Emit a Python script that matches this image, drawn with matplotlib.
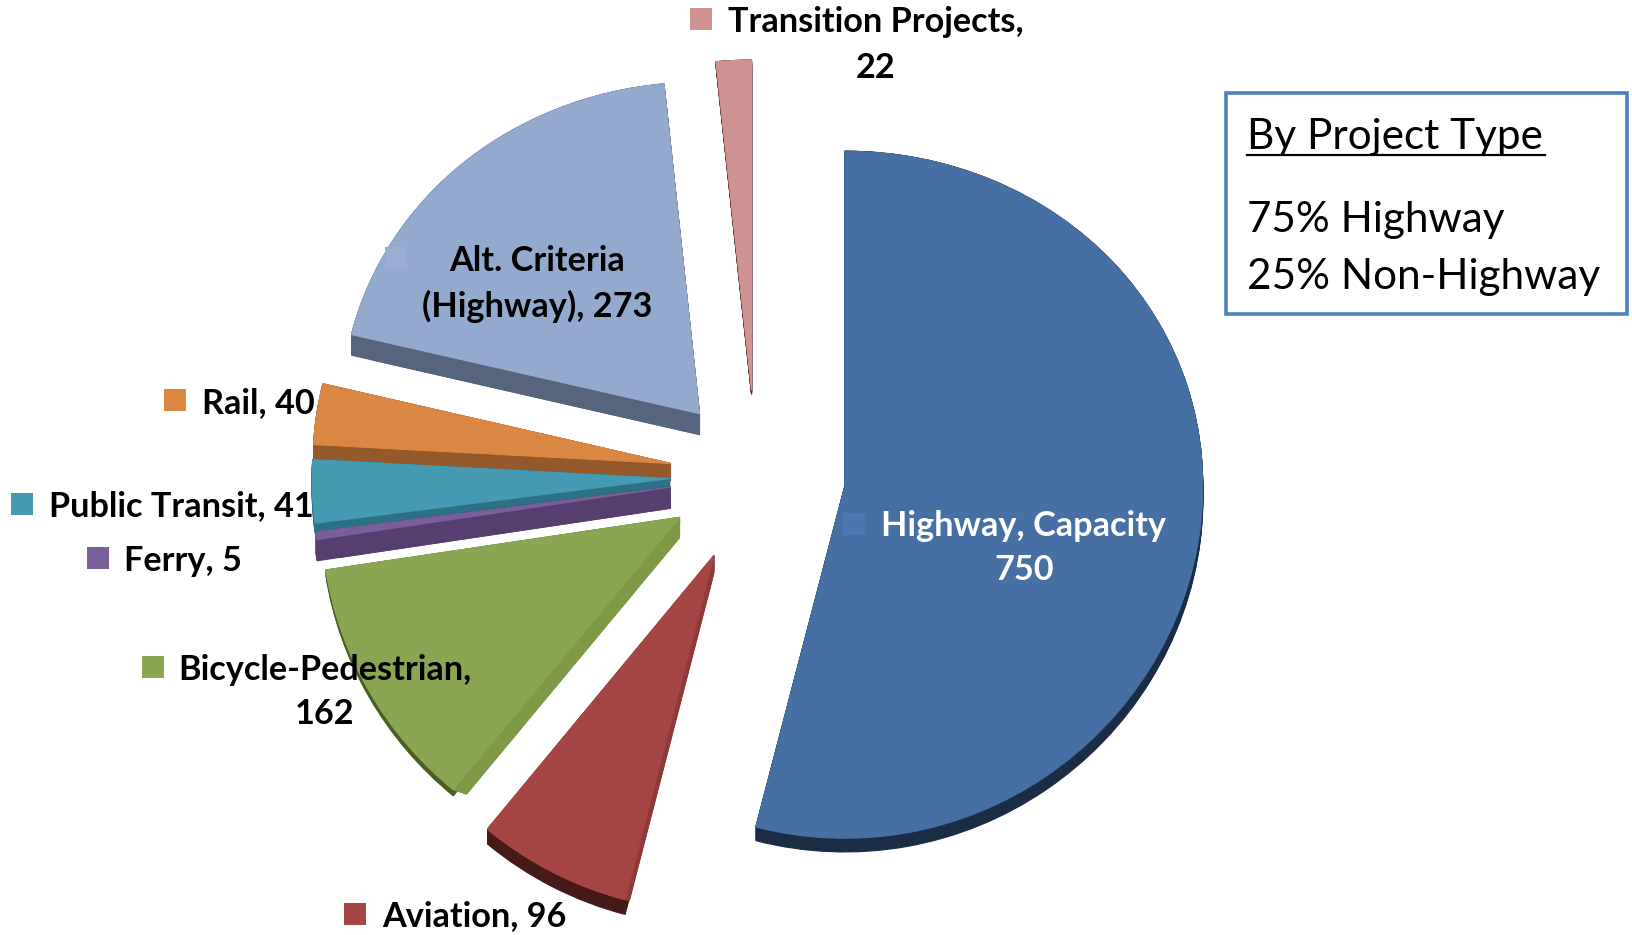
import matplotlib
matplotlib.use("Agg")
import matplotlib.pyplot as plt
from matplotlib.patches import Rectangle
import numpy as np

W, H = 1633, 935

names = ["Highway, Capacity\n750", "Aviation, 96", "Bicycle-Pedestrian,\n162", "Ferry, 5",
         "Public Transit, 41", "Rail, 40", "Alt. Criteria\n(Highway), 273", "Transition Projects,\n22"]
values = [750, 96, 162, 5, 41, 40, 273, 22]
explode = [0.25, 0.26, 0.245, 0.24, 0.24, 0.24, 0.24, 0.25]

top_colors = ["#4670A3", "#A54644", "#8AA652", "#7B5F9A", "#4599B1", "#DB8744", "#94A9CE", "#CF9292"]
edge_colors = ["#1B2D45", "#8E3A38", "#7F9947", "#563E6F", "#2D7185", "#93592A", "#56657D", "#5A3030"]
arc_colors = ["#1B2D45", "#451A18", "#4A5F28", "#563E6F", "#2D7185", "#93592A", "#56657D", "#5A3030"]
key_colors = ["#4A77AE", "#A54644", "#8AA652", "#7B5F9A", "#4599B1", "#DB8744", "#9AAED2", "#CF9292"]
depth_px = [13, 17, 20, 21, 10, 17, 21, 4]
arc_depth_px = [13, 14, 6, 21, 10, 17, 21, 4]
# back to front
draw_rank = {6: 0, 7: 1, 5: 2, 4: 3, 3: 4, 2: 5, 1: 6, 0: 7}

# label layout, px from top left
key_xy = [(854, 524), (355, 914), (153, 667), (98, 558), (22, 504), (175, 400), (396, 258), (701, 19)]
text_xy = [(1024, 548), (382, 916), (325, 692), (124, 561), (49, 506), (202, 403), (537, 284), (876, 45)]
text_ha = ["center", "left", "center", "left", "left", "left", "center", "center"]
text_col = ["white"] + ["black"] * 7

fig = plt.figure(figsize=(W / 100, H / 100), dpi=100)
ax = fig.add_axes([0, 0, 1, 1])

CX, CY = 756, 484
RX, RY = 358, 343
K = 8.5 / RY  # perspective: front of the pie looks bigger than the back


def persp(y):
    y = np.asarray(y, dtype=float)
    return y + K * (1 - y * y)


def persp_inv(z):
    z = np.asarray(z, dtype=float)
    return (1 - np.sqrt(1 - 4 * K * (z - K))) / (2 * K)


def pie_layer(colors, center=(0, 0), radius=1.0, z=0.0):
    wedges, _ = ax.pie(values, explode=explode, colors=colors, startangle=90, counterclock=False,
                       center=center, radius=radius)
    for i, w in enumerate(wedges):
        w.set_zorder(draw_rank[i] * 10 + z)
        w.set_edgecolor(colors[i])
        w.set_linewidth(0.8)
    return wedges


for t in range(0, 22):
    w1 = pie_layer(arc_colors, (0, -t / RY), 1.0, 1 + t / 22)
    w2 = pie_layer(edge_colors, (0, -t / RY), 1.0 - t / RY, 3 + t / 22)
    # each slice only goes as deep as its own depth
    for i in range(8):
        if t > arc_depth_px[i]:
            w1[i].set_visible(False)
        if t > depth_px[i]:
            w2[i].set_visible(False)
pie_layer(top_colors, z=5)

ax.set_aspect("auto")
ax.set_yscale("function", functions=(persp, persp_inv))
ax.set_xlim(-CX / RX, (W - CX) / RX)
ax.set_ylim(float(persp_inv(-(H - CY) / RY)), float(persp_inv(CY / RY)))
ax.axis("off")


def fx(px):
    return px / W


def fy(py):
    return 1 - py / H


plt.rcParams["font.family"] = ["Lato", "DejaVu Sans"]
for i in range(8):
    x, y = key_xy[i]
    fig.add_artist(Rectangle((fx(x - 11), fy(y + 11)), 22 / W, 22 / H, transform=fig.transFigure,
                             facecolor=key_colors[i], edgecolor="none", zorder=20))
    x, y = text_xy[i]
    fig.text(fx(x), fy(y), names[i], ha=text_ha[i], va="center", ma="center", color=text_col[i],
             fontsize=24.7, fontweight="bold", linespacing=1.5, zorder=21)

fig.add_artist(Rectangle((fx(1226), fy(314)), 401 / W, 221 / H, transform=fig.transFigure,
                         facecolor="white", edgecolor="#4F81BD", linewidth=2.6, zorder=20))
fig.text(fx(1247), fy(137), "By Project Type", ha="left", va="center", fontsize=30.4, zorder=21)
fig.add_artist(plt.Line2D([fx(1247), fx(1545)], [fy(155), fy(155)], color="black", linewidth=1.6, zorder=21))
fig.text(fx(1247), fy(220), "75% Highway", ha="left", va="center", fontsize=30.4, zorder=21)
fig.text(fx(1247), fy(277), "25% Non-Highway", ha="left", va="center", fontsize=30.4, zorder=21)

fig.savefig("out.png", dpi=100)
